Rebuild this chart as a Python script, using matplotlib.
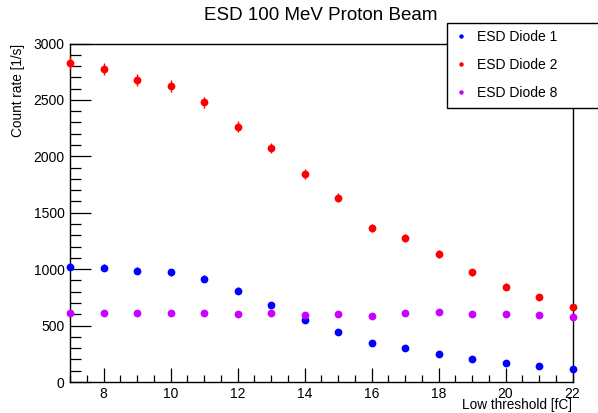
import matplotlib
matplotlib.use("Agg")
import matplotlib.pyplot as plt
from matplotlib.ticker import MultipleLocator

plt.rcParams['font.family'] = ['Liberation Sans', 'DejaVu Sans']

# Low threshold settings [fC]
threshold = [7, 8, 9, 10, 11, 12, 13, 14, 15, 16, 17, 18, 19, 20, 21, 22]

# Count rates [1/s]
diode1 = [1022, 1014, 987, 972, 916, 810, 683, 553, 446, 343, 304, 248, 207, 168, 142, 118]
diode2 = [2831, 2775, 2677, 2621, 2479, 2263, 2072, 1841, 1634, 1362, 1274, 1132, 972, 845, 751, 662]
diode8 = [615, 615, 609, 615, 615, 600, 609, 594, 606, 582, 615, 621, 606, 606, 597, 579]

# Statistical uncertainties [1/s]
diode1_err = [32, 32, 31, 31, 30, 28, 26, 24, 21, 19, 17, 16, 14, 13, 12, 11]
diode2_err = [55, 54, 53, 52, 51, 48, 46, 43, 40, 37, 36, 34, 31, 29, 27, 26]
diode8_err = [25, 25, 25, 25, 25, 24, 25, 24, 25, 24, 25, 25, 25, 25, 24, 24]

series = [
    ("ESD Diode 1", diode1, diode1_err, "#0000ff"),
    ("ESD Diode 2", diode2, diode2_err, "#ff0000"),
    ("ESD Diode 8", diode8, diode8_err, "#cc00ff"),
]

W, H = 598, 413
fig = plt.figure(figsize=(W / 100, H / 100), dpi=100)
ax_bottom, ax_top = 382, 43.5
ax = fig.add_axes([70 / W, 1 - ax_bottom / H, (572.5 - 70) / W, (ax_bottom - ax_top) / H])

handles = []
for label, vals, errs, col in series:
    ax.errorbar(threshold, vals, yerr=errs, fmt='o', color=col, ms=5.6,
                mew=0, elinewidth=1.0, capsize=2.2, capthick=1.0,
                clip_on=False, zorder=3)
    h, = ax.plot([], [], 'o', color=col, ms=3.2, mew=0, label=label)
    handles.append(h)

ax.set_xlim(7, 22)
ax.set_ylim(0, 3000)

ax.xaxis.set_major_locator(MultipleLocator(2))
ax.xaxis.set_minor_locator(MultipleLocator(0.5))
ax.yaxis.set_major_locator(MultipleLocator(500))
ax.yaxis.set_minor_locator(MultipleLocator(100))

ax.tick_params(axis='both', which='both', direction='in', top=False, right=False,
               labelsize=10, colors='black', width=0.9)
ax.tick_params(axis='x', which='major', length=10, pad=3.5)
ax.tick_params(axis='x', which='minor', length=5)
ax.tick_params(axis='y', which='major', length=15, pad=4)
ax.tick_params(axis='y', which='minor', length=8)

for sp in ax.spines.values():
    sp.set_linewidth(1.0)
    sp.set_color('black')

ax_h = ax_bottom - ax_top
ax.set_xlabel("Low threshold [fC]", fontsize=9.8)
ax.xaxis.set_label_coords(1.0, -(409.3 - ax_bottom) / ax_h)
ax.xaxis.label.set_ha('right')
ax.xaxis.label.set_va('baseline')

ax.set_ylabel("Count rate [1/s]", fontsize=9.8)
ax.yaxis.set_label_coords((18 - 70) / 502.5, 1.0)
ax.yaxis.label.set_va('center')
ax.yaxis.label.set_ha('right')

fig.text(321 / W, 1 - 15.5 / H, "ESD 100 MeV Proton Beam", fontsize=13.5,
         ha='center', va='center')

leg = ax.legend(handles=handles, loc='upper left',
                bbox_to_anchor=(446.7 / W, 1 - 22.7 / H, (W - 446.7 + 5) / W, 0),
                bbox_transform=fig.transFigure, mode='expand',
                fontsize=10, frameon=True, fancybox=False, framealpha=1,
                edgecolor='black', borderpad=0.55, labelspacing=1.0,
                handlelength=1.0, handletextpad=0.6, borderaxespad=0)
leg.get_frame().set_linewidth(1.0)
leg.set_zorder(10)

fig.savefig("out.png", dpi=100, facecolor='white')
